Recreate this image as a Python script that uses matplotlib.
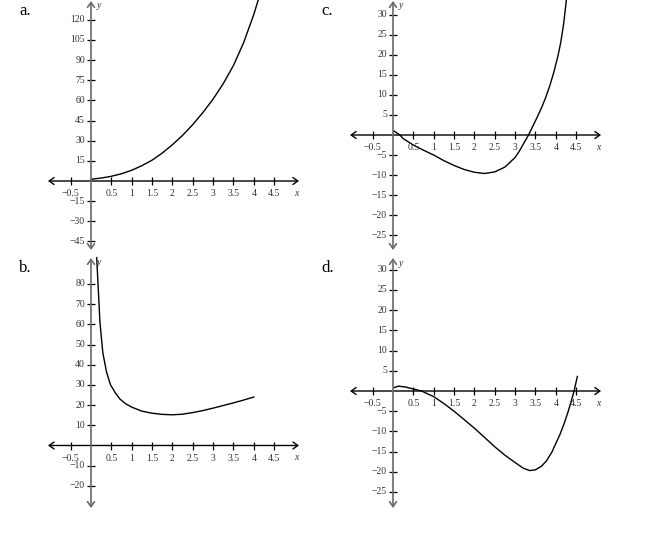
import matplotlib
matplotlib.use("Agg")
import matplotlib.pyplot as plt

plt.rcParams['font.family'] = ['Liberation Serif', 'DejaVu Serif']

# ---------------- data ----------------
panel_labels = ["a.", "b.", "c.", "d."]
x_ticks = [-0.5, 0.5, 1, 1.5, 2, 2.5, 3, 3.5, 4, 4.5]
x_tick_labels = ["\u22120.5", "0.5", "1", "1.5", "2", "2.5", "3", "3.5", "4", "4.5"]

y_ticks_a = [-45, -30, -15, 15, 30, 45, 60, 75, 90, 105, 120]
y_ticks_b = [-20, -10, 10, 20, 30, 40, 50, 60, 70, 80]
y_ticks_c = [-25, -20, -15, -10, -5, 5, 10, 15, 20, 25, 30]
y_ticks_d = [-25, -20, -15, -10, -5, 5, 10, 15, 20, 25, 30]

xa = [0, 0.25, 0.5, 0.75, 1, 1.25, 1.5, 1.75, 2, 2.25, 2.5, 2.75, 3, 3.25, 3.5, 3.75, 4, 4.11]
ya = [1.3, 2.2, 3.5, 5.4, 8, 11.4, 15.5, 20.8, 27, 34, 42, 51, 61, 72.5, 86, 103, 124, 135]

xb = [0.14, 0.18, 0.22, 0.29, 0.38, 0.48, 0.6, 0.71, 0.85, 1.0, 1.25, 1.5, 1.75, 2.0,
      2.25, 2.5, 2.75, 3.0, 3.25, 3.5, 3.75, 4.0]
yb = [93, 77, 61, 46, 36.5, 30, 26, 23, 20.7, 19, 17, 16, 15.4, 15.2,
      15.5, 16.3, 17.3, 18.5, 19.8, 21.1, 22.5, 24]

xc = [0.02, 0.17, 0.25, 0.5, 0.75, 1, 1.25, 1.5, 1.75, 2, 2.25, 2.5, 2.75, 3.0, 3.1,
      3.2, 3.33, 3.45, 3.55, 3.65, 3.75, 3.85, 3.95, 4.05, 4.12, 4.19, 4.26]
yc = [1, 0, -0.9, -2.5, -3.8, -5, -6.4, -7.6, -8.6, -9.3, -9.6, -9.2, -8.0, -5.6, -4.1,
      -2.3, 0, 2.5, 4.6, 6.8, 9.3, 12.2, 15.6, 19.6, 23, 27.5, 33.7]

xd = [0.02, 0.13, 0.3, 0.5, 0.7, 1, 1.25, 1.5, 1.75, 2, 2.25, 2.5, 2.75, 3, 3.2, 3.36,
      3.5, 3.65, 3.77, 3.9, 4.0, 4.1, 4.2, 4.3, 4.38, 4.45, 4.5, 4.53]
yd = [0.8, 1.2, 1.0, 0.5, 0, -1.4, -3.1, -5, -7.1, -9.2, -11.5, -13.8, -15.9, -17.7, -19.1,
      -19.7, -19.5, -18.6, -17.3, -15.2, -13, -10.8, -8.2, -5.2, -2.5, 0, 2.3, 3.6]

# ---------------- layout (pixels) ----------------
W, H = 650, 553
fig = plt.figure(figsize=(W / 100, H / 100), dpi=100)

panels = [
    dict(lab=panel_labels[0], x=xa, y=ya, yt=y_ticks_a, ox=91, oy=181, sx=40.7, sy=1.343,
         box=(40, 305, 0, 253), ya_px=(1, 250), labpos=(19, 15)),
    dict(lab=panel_labels[1], x=xb, y=yb, yt=y_ticks_b, ox=91, oy=445.5, sx=40.7, sy=2.02,
         box=(40, 305, 255, 512), ya_px=(258, 508), labpos=(19, 272)),
    dict(lab=panel_labels[2], x=xc, y=yc, yt=y_ticks_c, ox=393, oy=135, sx=40.7, sy=4.01,
         box=(340, 610, 0, 253), ya_px=(1, 250), labpos=(321, 15)),
    dict(lab=panel_labels[3], x=xd, y=yd, yt=y_ticks_d, ox=393, oy=391, sx=40.7, sy=4.04,
         box=(340, 610, 255, 512), ya_px=(258, 508), labpos=(321, 272)),
]

for p in panels:
    l, r, t, b = p['box']
    ax = fig.add_axes([l / W, 1 - b / H, (r - l) / W, (b - t) / H])
    ax.set_axis_off()
    ox, oy, sx, sy = p['ox'], p['oy'], p['sx'], p['sy']
    ax.set_xlim((l - ox) / sx, (r - ox) / sx)
    ax.set_ylim((oy - b) / sy, (oy - t) / sy)

    x_left = (48 - 91) / sx
    x_right = (299 - 91) / sx
    y_top = (oy - p['ya_px'][0]) / sy
    y_bot = (oy - p['ya_px'][1]) / sy

    # x axis
    ax.annotate("", xy=(x_left, 0), xytext=(x_right, 0),
                arrowprops=dict(arrowstyle="<->,head_length=0.35,head_width=0.25",
                                lw=1.0, color='black', shrinkA=0, shrinkB=0))
    # y axis
    ax.annotate("", xy=(0, y_bot), xytext=(0, y_top),
                arrowprops=dict(arrowstyle="<->,head_length=0.35,head_width=0.25",
                                lw=1.2, color='#6a6a6a', shrinkA=0, shrinkB=0))

    # ticks
    ax.plot(x_ticks, [0] * len(x_ticks), linestyle='none', marker='|', ms=5.8,
            mew=0.9, color='black')
    ax.plot([0] * len(p['yt']), p['yt'], linestyle='none', marker='_', ms=5.8,
            mew=0.9, color='black')

    for tv, tl in zip(x_ticks, x_tick_labels):
        ax.annotate(tl, xy=(tv, 0), xytext=(0, -13), textcoords='offset pixels',
                    ha='center', va='center', fontsize=7, color='#333333')
    for tv in p['yt']:
        lbl = ("\u2212%d" % -tv) if tv < 0 else "%d" % tv
        ax.annotate(lbl, xy=(0, tv), xytext=(-6, 0), textcoords='offset pixels',
                    ha='right', va='center', fontsize=7, color='#333333')

    # axis letters
    ax.annotate("x", xy=(x_right, 0), xytext=(-3, -12), textcoords='offset pixels',
                ha='center', va='center', fontsize=7, style='italic', color='#333333')
    ax.annotate("y", xy=(0, y_top), xytext=(8, -5), textcoords='offset pixels',
                ha='center', va='center', fontsize=7, style='italic', color='#333333')

    # curve
    ax.plot(p['x'], p['y'], color='black', lw=1.0, solid_joinstyle='round')

    fig.text(p['labpos'][0] / W, 1 - p['labpos'][1] / H, p['lab'], fontsize=12,
             ha='left', va='baseline', color='black')

fig.savefig("out.png", dpi=100)
